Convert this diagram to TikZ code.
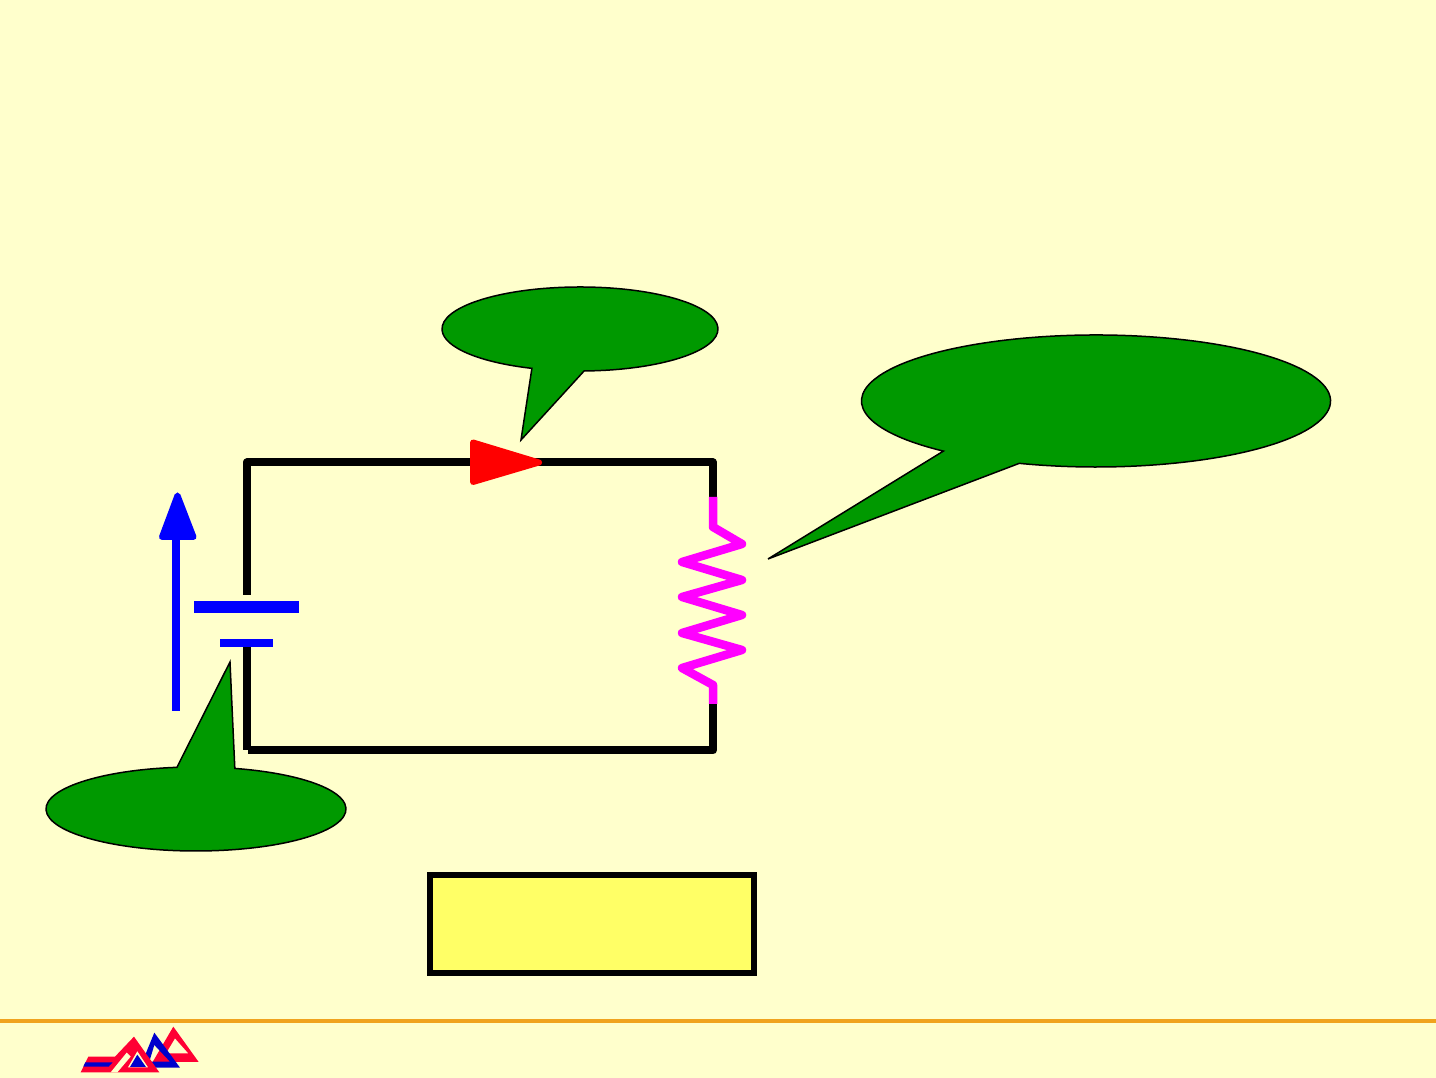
\documentclass[tikz,border=0pt]{standalone}
\definecolor{bgc}{HTML}{FFFFCC}
\definecolor{bubble}{HTML}{009900}
\definecolor{boxy}{HTML}{FFFF66}
\definecolor{rule}{HTML}{F0A31E}
\definecolor{lred}{HTML}{FF0033}
\definecolor{lblue}{HTML}{0000CC}
\definecolor{pinkres}{HTML}{FF00FF}
\definecolor{pureblue}{HTML}{0000FF}
\definecolor{purered}{HTML}{FF0000}
\tikzset{
  px/.style={y=-1pt,yshift=1078pt},
  callout/.style={fill=bubble,draw=black,line width=1.5pt,line join=miter},
  wire/.style={draw=black,line width=8pt,line join=round},
  res/.style={draw=pinkres,line width=8.5pt,line join=round},
  plate/.style={fill=pureblue,draw=none},
  tri/.style={line width=6pt,line join=round}
}
\begin{document}
\begin{tikzpicture}[x=1pt,y=1pt]
\useasboundingbox (0,0) rectangle (1436,1078);
\fill[bgc] (0,0) rectangle (1436,1078);
% callouts (y up)
\path[callout] (580,749) ++(271.7:138 and 42) arc[start angle=271.7,end angle=609.6,x radius=138,y radius=42] -- (521,638) -- cycle;
\path[callout] (1096,677) ++(250.9:234.5 and 66) arc[start angle=250.9,end angle=589.4,x radius=234.5,y radius=66] -- (768,519) -- cycle;
\begin{scope}[px]
% circuit
\draw[wire] (246.7,595) -- (246.7,462.5) -- (713,462.5) -- (713,497);
\draw[wire] (246.7,645) -- (246.7,750.5);
\draw[wire] (248,750.5) -- (713,750.5) -- (713,704);
\draw[res] (713,497) -- (713,527) -- (742,544) -- (682,562) -- (742,580) -- (682,597) -- (742,615) -- (682,633) -- (742,650) -- (682,668) -- (713,685) -- (713,704);
% battery
\fill[plate] (194,601) rectangle (299,613);
\fill[plate] (220,639.5) rectangle (273,647.5);
% emf arrow
\fill[pureblue] (172,538) rectangle (180,711);
\filldraw[pureblue,tri] (177.5,495.5) -- (193.5,537) -- (162,537) -- cycle;
% current arrow
\filldraw[purered,tri] (473,442.5) -- (539,462.5) -- (473,482) -- cycle;
% result box
\draw[fill=boxy,draw=black,line width=6pt] (430,875) rectangle (754,973);
% footer rule
\fill[rule] (0,1019) rectangle (1436,1023);
% logo, in the coordinates of the 3x crop
\begin{scope}[shift={(60,1010)},x=0.3333pt,y=-0.3333pt]
\fill[lred,even odd rule] (340,50) -- (416,156) -- (278,156) -- cycle (345,85) -- (385,130) -- (318,130) -- cycle;
\fill[lblue,even odd rule] (283,68) -- (360,173) -- (240,173) -- cycle (283,105) -- (330,155) -- (268,155) -- cycle;
\fill[lred] (85,140) -- (165,140) -- (222,80) -- (298,187) -- (62,187) -- cycle;
\fill[bgc] (232,124) -- (264,172) -- (204,172) -- cycle;
\fill[lblue] (232,134) -- (258,171) -- (210,171) -- cycle;
\fill[bgc] (152,187) -- (172,187) -- (212,140) -- (200,128) -- cycle;
\fill[lblue] (76,157) -- (158,157) -- (146,170) -- (70,170) -- cycle;
\end{scope}
\end{scope}
% lower-left callout above circuit
\path[callout] (196,269) ++(97.3:150 and 42) arc[start angle=97.3,end angle=435,x radius=150,y radius=42] -- (230,416) -- cycle;
\end{tikzpicture}
\end{document}
